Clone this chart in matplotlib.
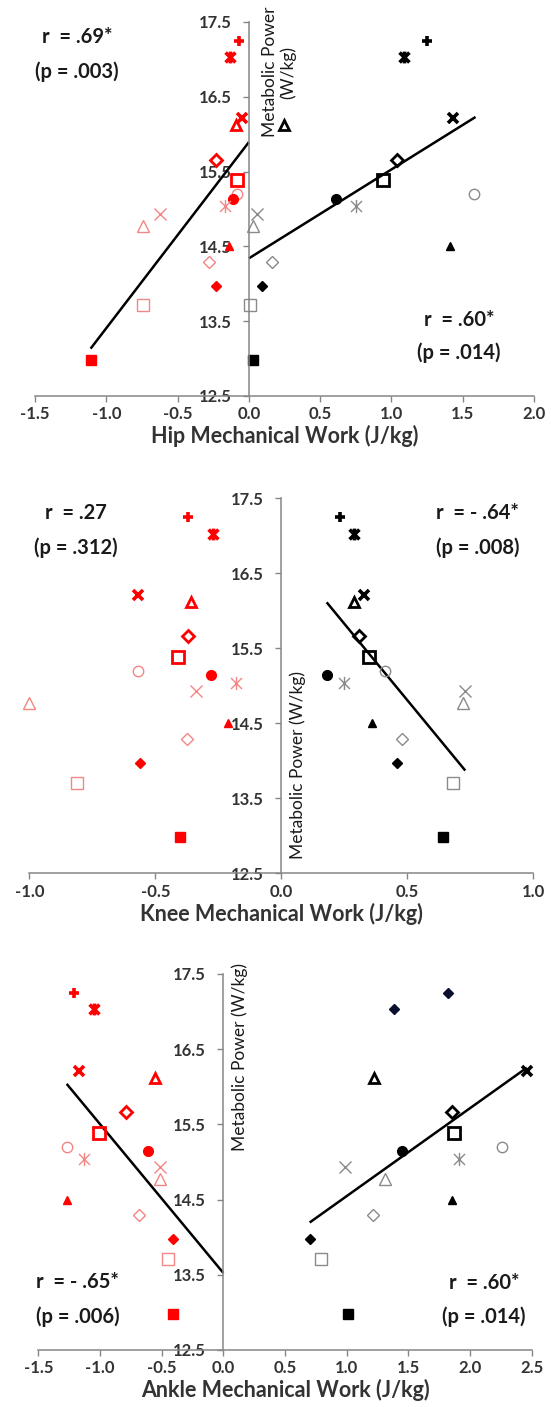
import numpy as np
import matplotlib
matplotlib.use("Agg")
import matplotlib.pyplot as plt
from matplotlib.path import Path

plt.rcParams.update({"font.family": ["Lato", "DejaVu Sans"]})

# metabolic power of the 16 subjects (W/kg), same for both legs
metabolic = [17.25, 17.03, 16.21, 16.12, 15.66, 15.39, 15.20, 15.14,
             15.04, 14.93, 14.77, 14.50, 14.29, 13.97, 13.71, 12.98]

# mechanical work (J/kg), red = one condition, black = the other
hip_red    = [-0.07, -0.13, -0.05, -0.09, -0.23, -0.08, -0.08, -0.11,
              -0.17, -0.62, -0.74, -0.14, -0.28, -0.23, -0.74, -1.11]
hip_black  = [1.25, 1.09, 1.43, 0.245, 1.04, 0.94, 1.58, 0.61,
              0.75, 0.06, 0.03, 1.41, 0.16, 0.09, 0.01, 0.03]
knee_red   = [-0.37, -0.27, -0.57, -0.36, -0.37, -0.41, -0.57, -0.28,
              -0.18, -0.34, -1.00, -0.21, -0.375, -0.56, -0.81, -0.40]
knee_black = [0.234, 0.29, 0.33, 0.287, 0.31, 0.35, 0.41, 0.18,
              0.25, 0.73, 0.72, 0.36, 0.48, 0.46, 0.68, 0.64]
ankle_red  = [-1.21, -1.05, -1.17, -0.55, -0.79, -1.01, -1.27, -0.61,
              -1.13, -0.51, -0.51, -1.27, -0.68, -0.41, -0.45, -0.41]
ankle_black = [1.82, 1.38, 2.46, 1.22, 1.85, 1.87, 2.26, 1.45,
               1.91, 0.99, 1.31, 1.85, 1.21, 0.70, 0.79, 1.01]

# x extent of each trend line (None = no line)
fit_range = {"hip_red": (-1.11, 0.0), "hip_black": (0.0, 1.59),
             "knee_red": None, "knee_black": (0.18, 0.73),
             "ankle_red": (-1.27, 0.0), "ankle_black": (0.70, 2.46)}

stats = {"hip": [("r  = .69*", "(p = .003)"), ("r  = .60*", "(p = .014)")],
         "knee": [("r  = .27", "(p = .312)"), ("r  = - .64*", "(p = .008)")],
         "ankle": [("r  = - .65*", "(p = .006)"), ("r  = .60*", "(p = .014)")]}

xlabels = ["Hip Mechanical Work (J/kg)", "Knee Mechanical Work (J/kg)",
           "Ankle Mechanical Work (J/kg)"]
xlims = [(-1.5, 2.0), (-1.0, 1.0), (-1.5, 2.5)]
yticks = [12.5, 13.5, 14.5, 15.5, 16.5, 17.5]

# star marker (x with vertical bar)
star = Path([(-1, -1), (1, 1), (-1, 1), (1, -1), (0, -1.2), (0, 1.2)],
            [Path.MOVETO, Path.LINETO, Path.MOVETO, Path.LINETO,
             Path.MOVETO, Path.LINETO])

# marker, kind, size, edge width
styles = [("+", "bold", 7.5, 2.6), (star, "bold", 8.5, 2.6), ("x", "bold", 7, 2.6),
          ("^", "bopen", 7.5, 2.0), ("D", "bopen", 6.5, 2.0), ("s", "bopen", 8.5, 2.0),
          ("o", "light", 7.5, 1.0), ("o", "fill", 7, 1.0), (star, "light", 9.5, 1.0),
          ("x", "light", 8, 1.0), ("^", "light", 8, 1.0), ("^", "fill", 6, 1.0),
          ("D", "light", 6, 1.0), ("D", "fill", 5.5, 1.0), ("s", "light", 8, 1.0),
          ("s", "fill", 7.5, 1.0)]

palette = {"red": ("#ff0000", "#f48686"), "black": ("#000000", "#8a8a8a")}


def draw_series(ax, xs, color, ankle_black_top=False):
    dark, light = palette[color]
    for i, (x, y) in enumerate(zip(xs, metabolic)):
        m, kind, ms, mew = styles[i]
        if ankle_black_top and i < 2:
            ax.plot(x, y, "D", ms=5.5, color="#0b0f2e", mec="#0b0f2e", clip_on=False)
            continue
        c = light if kind == "light" else dark
        if kind == "fill":
            ax.plot(x, y, m, ms=ms, color=c, mec=c, clip_on=False)
        elif kind in ("bopen", "light") and m not in ("x", "+") and m is not star:
            ax.plot(x, y, m, ms=ms, mfc="none", mec=c, mew=mew, clip_on=False)
        else:
            ax.plot(x, y, marker=m, ms=ms, color=c, mew=mew, ls="none", clip_on=False)


def trend(ax, xs, rng):
    if rng is None:
        return
    k, b = np.polyfit(xs, metabolic, 1)
    xx = np.array(rng)
    ax.plot(xx, k * xx + b, color="black", lw=1.8, solid_capstyle="butt")


fig = plt.figure(figsize=(5.51, 14.07), dpi=100)
rects = [[35 / 551, 1 - 396 / 1407, 499 / 551, 374 / 1407],
         [29.3 / 551, 1 - 873.3 / 1407, 504 / 551, 375 / 1407],
         [38.3 / 551, 1 - 1350 / 1407, 493.4 / 551, 376 / 1407]]
series = [("hip", hip_red, hip_black), ("knee", knee_red, knee_black),
          ("ankle", ankle_red, ankle_black)]
# text positions (axes fraction): left stats, right stats, y label
txt_pos = [((0.084, 0.96, 0.866), (0.85, 0.203, 0.115), (0.489, 0.866)),
           ((0.093, 0.96, 0.867), (0.89, 0.96, 0.867), (0.532, 0.29)),
           ((0.08, 0.182, 0.089), (0.903, 0.177, 0.089), (0.408, 0.78))]
ylab_txt = ["Metabolic Power\n(W/kg)", "Metabolic Power (W/kg)", "Metabolic Power (W/kg)"]

for j, (name, red, blk) in enumerate(series):
    ax = fig.add_axes(rects[j])
    ax.set_xlim(*xlims[j])
    ax.set_ylim(12.5, 17.5)
    ax.set_yticks(yticks)
    ax.set_yticklabels([f"{v:.1f}" for v in yticks])
    lo, hi = xlims[j]
    ax.set_xticks(np.arange(lo, hi + 0.01, 0.5))
    ax.set_xticklabels([f"{v:.1f}" for v in np.arange(lo, hi + 0.01, 0.5)])
    for s in ("top", "right"):
        ax.spines[s].set_visible(False)
    ax.spines["left"].set_position(("data", 0))
    for s in ("left", "bottom"):
        ax.spines[s].set_color("#868686")
        ax.spines[s].set_linewidth(1.1)
    ax.tick_params(direction="out", length=4.5, width=1, color="#868686",
                   labelsize=12, labelcolor="#333333")
    ax.tick_params(axis="y", pad=8)
    ax.tick_params(axis="x", pad=3)
    for lab in ax.get_xticklabels() + ax.get_yticklabels():
        lab.set_fontweight("bold")
    ax.set_xlabel(xlabels[j], fontsize=15.5, fontweight="bold", color="#333333", labelpad=2)
    ax.set_zorder(1)

    trend(ax, red, fit_range[name + "_red"])
    trend(ax, blk, fit_range[name + "_black"])
    draw_series(ax, red, "red")
    draw_series(ax, blk, "black", ankle_black_top=(name == "ankle"))

    (lx, ly1, ly2), (rx, ry1, ry2), (yx, yy) = txt_pos[j]
    (lr, lp), (rr, rp) = stats[name]
    kw = dict(transform=ax.transAxes, ha="center", va="center", fontsize=14.5,
              fontweight="bold", color="#1a1a1a")
    ax.text(lx, ly1, lr, **kw)
    ax.text(lx, ly2, lp, **kw)
    ax.text(rx, ry1, rr, **kw)
    ax.text(rx, ry2, rp, **kw)
    ax.text(yx, yy, ylab_txt[j], transform=ax.transAxes, rotation=90,
            ha="center", va="center", fontsize=12.5, color="#1a1a1a",
            linespacing=1.1, clip_on=False)

fig.savefig("out.png", dpi=100)
